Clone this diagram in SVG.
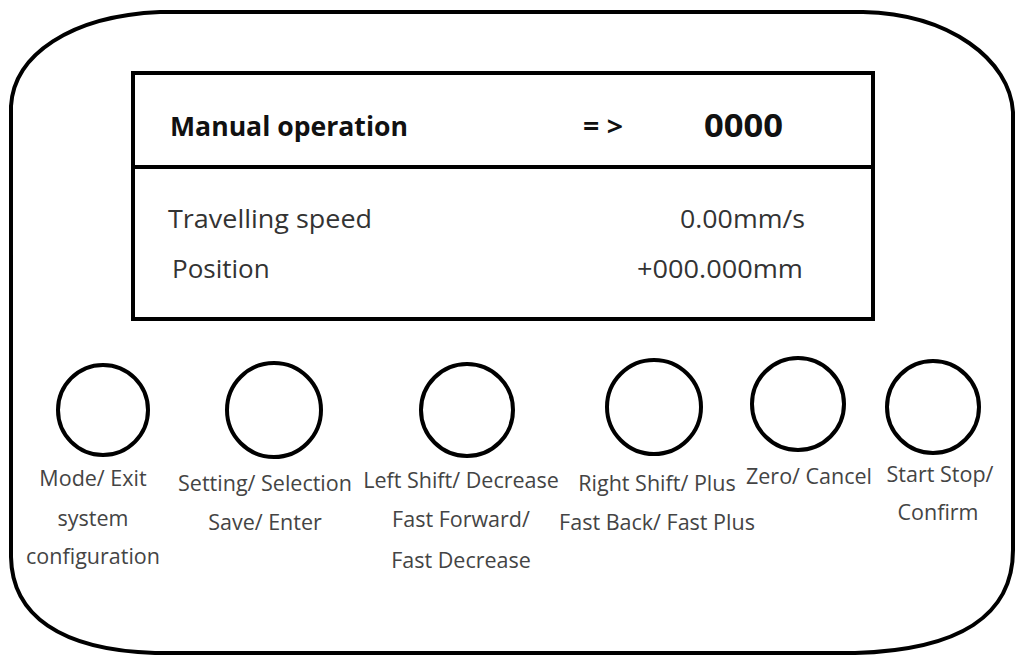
<svg xmlns="http://www.w3.org/2000/svg" width="1023" height="657" viewBox="0 0 1023 657">
<style>
.frame{fill:none;stroke:#000;stroke-width:4}
.btn{fill:none;stroke:#000;stroke-width:4}
.scr{fill:none;stroke:#000;stroke-width:4}
.hd{font-family:"Open Sans","Liberation Sans",sans-serif;font-weight:bold;fill:#111}
.tx{font-family:"Open Sans","Liberation Sans",sans-serif;fill:#333;font-size:26px}
.lb{font-family:"Open Sans","Liberation Sans",sans-serif;fill:#444;font-size:21.5px;text-anchor:middle}
</style>
<rect width="1023" height="657" fill="#fff"/>
<g id="panel">
<path class="frame" d="M160 12 H863 C950 14 1010 60 1013 112 V550 C1013 615 960 650 855 653 H155 C60 650 12 615 11 557 V106 C14 55 70 16 160 12 Z"/>
</g>
<g id="screen">
<rect class="scr" x="133" y="73" width="740" height="246"/>
<line class="scr" x1="131" y1="167" x2="875" y2="167"/>
<text class="hd" x="170" y="136" font-size="26" textLength="238" lengthAdjust="spacingAndGlyphs">Manual operation</text>
<text class="hd" x="583" y="136" font-size="26" textLength="40" lengthAdjust="spacingAndGlyphs">= &gt;</text>
<text class="hd" x="704" y="137" font-size="33" textLength="79" lengthAdjust="spacingAndGlyphs">0000</text>
<text class="tx" x="168" y="228" textLength="204" lengthAdjust="spacingAndGlyphs">Travelling speed</text>
<text class="tx" x="680" y="228" textLength="125" lengthAdjust="spacingAndGlyphs">0.00mm/s</text>
<text class="tx" x="172" y="278">Position</text>
<text class="tx" x="637" y="278" textLength="166" lengthAdjust="spacingAndGlyphs">+000.000mm</text>
</g>
<g id="btn-mode">
<circle class="btn" cx="103" cy="410" r="45"/>
<text class="lb" x="93" y="486">Mode/ Exit</text>
<text class="lb" x="93" y="526">system</text>
<text class="lb" x="93" y="564">configuration</text>
</g>
<g id="btn-setting">
<circle class="btn" cx="274" cy="410" r="47"/>
<text class="lb" x="265" y="491">Setting/ Selection</text>
<text class="lb" x="265" y="530">Save/ Enter</text>
</g>
<g id="btn-left">
<circle class="btn" cx="467" cy="410" r="46"/>
<text class="lb" x="461" y="488">Left Shift/ Decrease</text>
<text class="lb" x="461" y="527">Fast Forward/</text>
<text class="lb" x="461" y="568">Fast Decrease</text>
</g>
<g id="btn-right">
<circle class="btn" cx="654" cy="407" r="47"/>
<text class="lb" x="657" y="491">Right Shift/ Plus</text>
<text class="lb" x="657" y="530">Fast Back/ Fast Plus</text>
</g>
<g id="btn-zero">
<circle class="btn" cx="798" cy="404" r="46"/>
<text class="lb" x="809" y="484">Zero/ Cancel</text>
</g>
<g id="btn-start">
<circle class="btn" cx="933" cy="407" r="46"/>
<text class="lb" x="940" y="482">Start Stop/</text>
<text class="lb" x="938" y="520">Confirm</text>
</g>
<g id="connectors"></g>
</svg>
